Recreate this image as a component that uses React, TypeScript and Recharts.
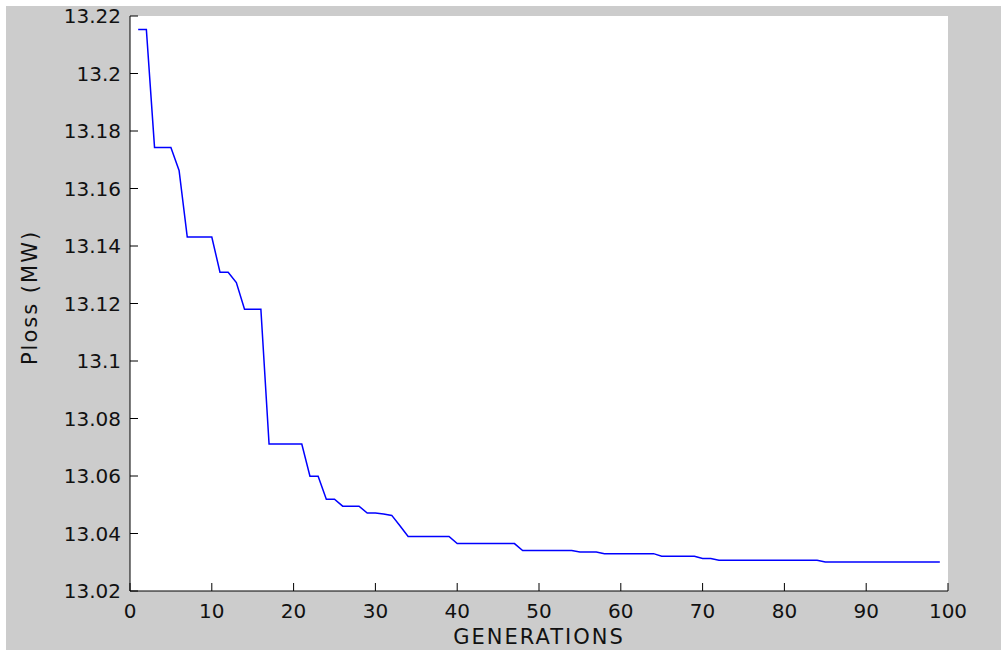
import { LineChart, Line, XAxis, YAxis } from 'recharts';

// Ploss (MW) per generation, generation 1..99
const plossMW: number[] = [
  13.2153, 13.2153, 13.1743, 13.1743, 13.1743, 13.1663, 13.1431, 13.1431, 13.1431, 13.1431,
  13.1309, 13.1309, 13.1273, 13.118, 13.118, 13.118, 13.0711, 13.0711, 13.0711, 13.0711,
  13.0711, 13.0599, 13.0599, 13.0519, 13.0519, 13.0495, 13.0495, 13.0495, 13.0471, 13.0471,
  13.0468, 13.0463, 13.0427, 13.039, 13.039, 13.039, 13.039, 13.039, 13.039, 13.0365,
  13.0365, 13.0365, 13.0365, 13.0365, 13.0365, 13.0365, 13.0365, 13.0341, 13.0341, 13.0341,
  13.0341, 13.0341, 13.0341, 13.0341, 13.0336, 13.0336, 13.0336, 13.033, 13.033, 13.033,
  13.033, 13.033, 13.033, 13.033, 13.0321, 13.0321, 13.0321, 13.0321, 13.0321, 13.0313,
  13.0313, 13.0307, 13.0307, 13.0307, 13.0307, 13.0307, 13.0307, 13.0307, 13.0307, 13.0307,
  13.0307, 13.0307, 13.0307, 13.0307, 13.0301, 13.0301, 13.0301, 13.0301, 13.0301, 13.0301,
  13.0301, 13.0301, 13.0301, 13.0301, 13.0301, 13.0301, 13.0301, 13.0301, 13.0301,
];
const generations: number[] = plossMW.map((_, i) => i + 1);

const xTicks = [0, 10, 20, 30, 40, 50, 60, 70, 80, 90, 100];
const yTicks = [13.02, 13.04, 13.06, 13.08, 13.1, 13.12, 13.14, 13.16, 13.18, 13.2, 13.22];

const data = generations.map((gen, i) => ({ gen, ploss: plossMW[i] }));

const FONT = '"DejaVu Sans", sans-serif';
const TICK_LEN = 8;

// matlab style labels: no trailing zeros
const fmt = (v: number) => String(Number(v.toFixed(2)));

const BottomTick = ({ x, y, payload }: any) => (
  <g>
    <line x1={x} x2={x} y1={y} y2={y - TICK_LEN} stroke="#000" />
    <text x={x} y={y + 27} textAnchor="middle" fontSize={20} fontFamily={FONT} fill="#111">
      {payload.value}
    </text>
  </g>
);

const TopTick = ({ x, y }: any) => <line x1={x} x2={x} y1={y} y2={y + TICK_LEN} stroke="#000" />;

const LeftTick = ({ x, y, payload }: any) => (
  <g>
    <line x1={x} x2={x + TICK_LEN} y1={y} y2={y} stroke="#000" />
    <text x={x - 9} y={y} dy="0.36em" textAnchor="end" fontSize={20} fontFamily={FONT} fill="#111">
      {fmt(payload.value)}
    </text>
  </g>
);

const RightTick = ({ x, y }: any) => <line x1={x} x2={x - TICK_LEN} y1={y} y2={y} stroke="#000" />;

const YLabel = ({ viewBox }: any) => {
  const cx = viewBox.x + 31;
  const cy = viewBox.y + viewBox.height / 2 - 6;
  return (
    <text
      x={cx}
      y={cy}
      transform={`rotate(-90, ${cx}, ${cy})`}
      textAnchor="middle"
      fontSize={21}
      letterSpacing={2}
      fontFamily={FONT}
      fill="#111"
    >
      Ploss (MW)
    </text>
  );
};

const XLabel = ({ viewBox }: any) => (
  <text
    x={viewBox.x + viewBox.width / 2}
    y={viewBox.y + viewBox.height - 6}
    textAnchor="middle"
    fontSize={21}
    letterSpacing={2}
    fontFamily={FONT}
    fill="#111"
  >
    GENERATIONS
  </text>
);

export default function App() {
  return (
    <div style={{ position: 'absolute', left: 0, top: 0, width: 1001, height: 654 }}>
      <div style={{ position: 'absolute', left: 6, top: 6, width: 995, height: 644, background: '#cccccc' }} />
      <div style={{ position: 'absolute', left: 6, top: 0 }}>
        <LineChart width={995} height={650} data={data} margin={{ top: 16, right: 53, bottom: 0, left: 0 }}>
          <rect x={124} y={16} width={818} height={575} fill="#ffffff" />
          <XAxis
            dataKey="gen"
            type="number"
            domain={[0, 100]}
            ticks={xTicks}
            height={59}
            tickSize={0}
            tickMargin={0}
            tickLine={false}
            axisLine={{ stroke: '#000' }}
            tick={<BottomTick />}
            label={<XLabel />}
            interval={0}
          />
          <XAxis
            xAxisId="top"
            orientation="top"
            type="number"
            domain={[0, 100]}
            ticks={xTicks}
            height={0}
            tickSize={0}
            tickMargin={0}
            tickLine={false}
            axisLine={{ stroke: '#000' }}
            tick={<TopTick />}
            interval={0}
          />
          <YAxis
            type="number"
            domain={[13.02, 13.22]}
            ticks={yTicks}
            width={124}
            tickSize={0}
            tickMargin={0}
            tickLine={false}
            axisLine={{ stroke: '#000' }}
            tick={<LeftTick />}
            label={<YLabel />}
            interval={0}
          />
          <YAxis
            yAxisId="right"
            orientation="right"
            type="number"
            domain={[13.02, 13.22]}
            ticks={yTicks}
            width={0}
            tickSize={0}
            tickMargin={0}
            tickLine={false}
            axisLine={{ stroke: '#000' }}
            tick={<RightTick />}
            interval={0}
          />
          <Line
            type="linear"
            dataKey="ploss"
            stroke="#0000ff"
            strokeWidth={1.5}
            dot={false}
            isAnimationActive={false}
          />
        </LineChart>
      </div>
    </div>
  );
}
